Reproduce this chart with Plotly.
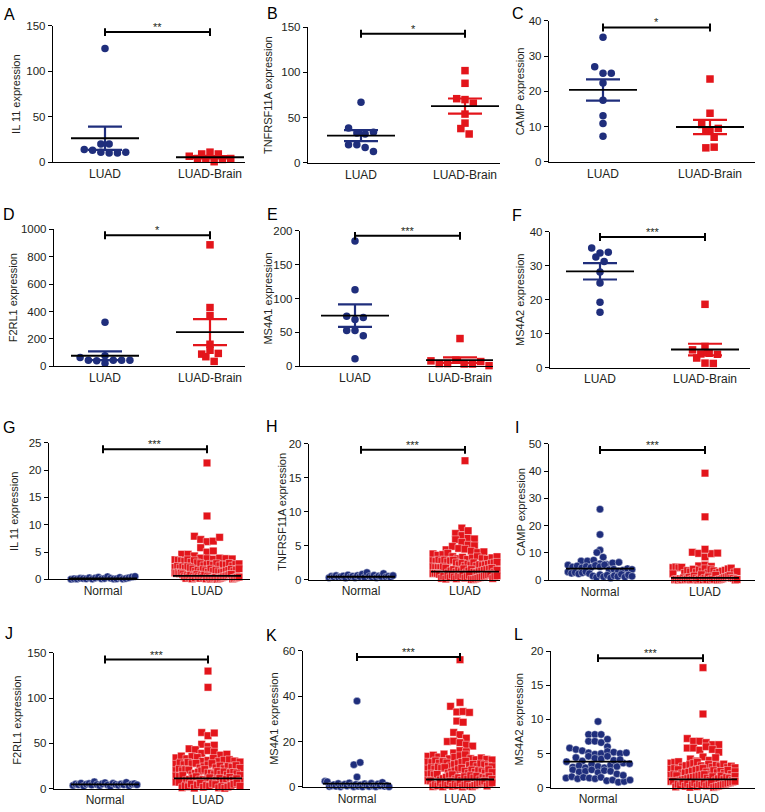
import plotly.graph_objects as go

W, H = 765, 812
NAVY = "#1F2E7C"
RED = "#E3151B"
INK = "#231F20"
FONT = "Liberation Sans, Arial, Helvetica, sans-serif"

# ---------------- data ----------------
panel_letters = ["A", "B", "C", "D", "E", "F", "G", "H", "I", "J", "K", "L"]
genes = ["IL 11", "TNFRSF11A", "CAMP", "F2RL1", "MS4A1", "MS4A2"]
top_groups = ["LUAD", "LUAD-Brain"]
bottom_groups = ["Normal", "LUAD"]
top_stars = ["**", "*", "*", "*", "***", "***"]
bottom_stars = ["***", "***", "***", "***", "***", "***"]

y_ticks = [
    [0, 50, 100, 150], [0, 50, 100, 150], [0, 10, 20, 30, 40],
    [0, 200, 400, 600, 800, 1000], [0, 50, 100, 150, 200], [0, 10, 20, 30, 40],
    [0, 5, 10, 15, 20, 25], [0, 5, 10, 15, 20], [0, 10, 20, 30, 40, 50],
    [0, 50, 100, 150], [0, 20, 40, 60], [0, 5, 10, 15, 20],
]
bracket_y = [143, 142.7, 38.1, 957, 192.7, 38.5, 23.8, 19.1, 47.7, 142.8, 57.2, 19.0]

# LUAD vs LUAD-Brain (panels A-F)
luad_A = [125, 20, 20, 14, 13, 11, 10, 10, 11]
brain_A = [9, 11, 9, 6.5, 4, 4, 0.5, 3, 4]
luad_B = [67, 38.5, 33, 32, 34, 20, 20, 17, 12.7]
brain_B = [102, 88, 71, 70, 66, 54, 44, 38, 32]
luad_C = [35.3, 27, 25.1, 25.1, 22.4, 17.5, 13.1, 10.9, 7.3]
brain_C = [23.5, 13.8, 10.6, 9.0, 9.5, 8.8, 7.0, 4.0, 4.2]
luad_D = [321, 65, 45, 41, 77, 22, 45, 45, 45]
brain_D = [887, 429, 369, 161, 89, 117, 70, 94, 36]
luad_E = [185, 113, 74, 69, 72, 53, 53, 45, 11]
brain_E = [41, 8, 4, 4, 9, 3.4, 3.4, 7, 1]
luad_F = [35.3, 33.8, 34, 32.6, 31.3, 28.2, 25, 19.3, 16.4]
brain_F = [18.7, 5.3, 6.3, 2.9, 4.1, 4.3, 1.4, 1.3, 4.0]

top_means = [[26.3, 5.4], [30.1, 62.8], [20.4, 9.9], [77, 249], [74.8, 9.2], [28.4, 5.4]]
top_sems = [[12.7, 1.2], [6.1, 8.4], [3.0, 2.0], [32, 95], [16.7, 4.0], [2.4, 1.7]]

# Normal vs LUAD (panels G-L)
normal_G = [0.05, 0.12, 0.08, 0.2, 0.15, 0.1, 0.3, 0.06, 0.25, 0.4, 0.1, 0.18, 0.5,
            0.22, 0.09, 0.13, 0.35, 0.07, 0.16, 0.28, 0.45, 0.55]
tumor_G = [21.3, 11.6, 7.9, 7.3, 6.9, 7.0, 7.7, 5.8, 5.0, 4.6, 4.6, 4.3, 5.2,
           3.9, 3.6, 3.8, 3.5, 3.7, 3.4, 3.9, 3.3, 3.6, 3.8, 3.15, 3.45, 3.75, 3.05,
           2.9, 2.5, 2.7, 2.2, 2.8, 2.4, 2.6, 2.1, 2.3, 2.9, 2.5, 2.7,
           2.05, 2.35, 2.65, 2.95, 2.15, 2.45, 2.75, 2.85,
           1.9, 1.5, 1.2, 1.7, 1.4, 1.8, 1.1, 1.6, 1.3, 1.9, 1.5, 1.2, 1.7, 1.4,
           1.05, 1.25, 1.35, 1.55, 1.65, 1.85, 1.15, 1.45, 1.75, 1.95,
           0.9, 0.5, 0.2, 0.7, 0.4, 0.8, 0.1, 0.6, 0.3, 0.9, 0.5, 0.2, 0.7, 0.4,
           0.8, 0.1, 0.6, 0.3, 0.05, 0.15, 0.25, 0.35,
           0.03, 0.14, 0.21, 0.33, 0.48, 0.52, 0.66, 0.71, 0.85, 0.94, 0.08, 0.19, 0.28, 0.39, 0.44]
normal_H = [0.3, 0.5, 0.4, 0.6, 0.35, 0.45, 0.55, 0.25, 0.7, 0.4, 0.5, 0.3, 0.6, 0.45,
            0.8, 0.35, 1.05, 0.5, 0.4, 0.65, 0.3, 0.55, 0.45, 0.9, 0.4, 0.5, 0.35, 0.6]
tumor_H = [17.5, 7.6, 6.8, 6.5, 7.2, 6.1, 5.9, 5.5, 6.0, 4.4, 5.1, 4.9, 5.0, 4.6, 4.5,
           4.2, 3.8, 4.0, 3.6, 4.1, 3.7, 3.9,
           3.4, 2.8, 3.1, 2.7, 3.3, 2.9, 3.0, 3.2, 2.7, 3.4, 2.9, 3.1,
           2.62, 2.78, 2.88, 3.02, 3.22, 3.38,
           2.5, 1.9, 2.2, 1.8, 2.4, 2.0, 2.3, 2.1, 1.8, 2.5, 2.0, 2.2,
           1.78, 1.88, 2.08, 2.18, 2.28, 2.38, 2.48, 2.58,
           1.7, 1.0, 1.3, 0.9, 1.5, 1.1, 1.4, 1.2, 1.6, 1.0, 1.3, 1.5, 0.95, 1.1,
           0.92, 1.02, 1.18, 1.28, 1.38, 1.48, 1.58, 1.68, 1.12, 1.42,
           0.8, 0.2, 0.5, 0.1, 0.6, 0.3, 0.7, 0.4, 0.15, 0.55, 0.35, 0.75, 0.25, 0.45, 0.65, 0.05,
           0.03, 0.12, 0.22, 0.33, 0.42, 0.52, 0.63, 0.72, 0.83, 0.18, 0.48, 0.58]
normal_I = [26.0, 16.7, 11.0, 10.1, 8.4, 7.0, 7.0, 7.3,
            5.5, 4.8, 5.2, 6.0, 4.5, 5.8, 5.0, 4.6, 5.4, 6.3, 4.9, 5.6, 6.5,
            3.0, 2.5, 3.8, 2.8, 4.0, 3.3, 2.3, 3.6, 4.2, 2.7, 3.1, 3.9, 2.4,
            1.5, 1.0, 2.0, 1.2, 1.8, 0.8, 1.6, 1.3, 2.1, 1.1, 1.9, 1.4]
tumor_I = [39.2, 23.2, 10.2, 9.8, 8.5, 9.7, 9.9, 11.3,
           4.6, 5.2, 4.8, 5.5, 4.5, 5.0, 4.7,
           2.5, 3.5, 3.0, 4.0, 2.8, 3.7, 2.3, 3.2, 4.2, 2.6, 3.9, 3.4,
           2.55, 2.9, 3.3, 3.6, 4.1, 4.4, 2.7, 3.1,
           0.1, 0.3, 0.05, 0.5, 0.2, 0.8, 0.15, 0.4, 1.0, 0.1, 0.25, 1.5, 0.6, 0.05,
           0.35, 2.0, 0.12, 0.7, 0.2, 1.2, 0.08, 0.45, 0.3, 1.8,
           0.02, 0.18, 0.28, 0.55, 0.9, 1.1, 1.35, 1.6, 0.75, 0.65, 0.04, 0.22]
normal_J = [3.5, 5.0, 4.2, 6.0, 2.8, 4.8, 5.5, 3.9, 7.5, 4.5, 3.2, 5.2, 6.5, 4.0, 2.5,
            5.8, 4.6, 3.6, 5.1, 4.3, 6.8, 3.0, 4.9, 5.4, 4.1]
tumor_J = [130, 112, 62, 58.5, 61.5, 49, 46.5, 48, 44, 43, 39, 42, 40.5,
           34, 36, 33, 35.5, 37, 34.5, 38, 30.2, 31.2, 33.5,
           27, 30, 28.5, 31.5, 26.5, 29, 32, 27.5, 30.5, 28, 22.8, 24.2, 26.2, 27.8, 29.4,
           20, 23, 21.5, 25, 19.8, 22, 24.5, 21, 23.5, 20.5, 25.5, 22.5,
           15.2, 16.8, 18.2, 19.6, 21.2, 17.3,
           14, 17, 15.5, 19, 13.5, 16, 18.5, 15, 17.5, 14.5, 18, 16.5,
           7.2, 8.8, 10.2, 11.8, 13.2, 14.6, 9.8,
           7, 10, 8.5, 12, 7.5, 9, 11.5, 8, 10.5, 12.5, 9.5, 11, 7.8,
           1, 3, 2, 5, 0.5, 4, 6, 1.5, 3.5, 2.5, 5.5, 4.5, 0.8, 2.2,
           0.3, 1.8, 3.2, 4.8, 6.3, 2.7]
normal_K = [37.8, 9.8, 10.8, 4.4, 2.5, 2.3,
            0.2, 0.5, 1.0, 0.3, 1.5, 0.1, 0.8, 1.2, 0.4, 1.8, 0.6, 0.15, 1.1, 0.35,
            0.9, 0.05, 1.4, 0.7, 0.25, 1.6, 0.45, 0.12, 1.3, 0.55, 2.0, 0.3, 0.65, 0.08]
tumor_K = [56, 37.2, 35.5, 33, 33.2, 32.8, 29, 28.5, 24, 23, 21.5, 20, 20.2, 19.5, 18.5, 18,
           13.5, 15, 14, 16, 13.2, 14.5, 15.5, 12.4, 13.1, 13.8, 14.2,
           11, 12.5, 10.8, 12, 11.5, 10.5, 12.8, 11.2, 12.2, 10.6,
           9.3, 9.9, 10.3, 10.9, 11.4, 11.9,
           8, 9.5, 8.5, 10, 9, 7.9, 10.2, 8.8, 9.8, 8.2, 9.2, 8.6,
           6.1, 6.6, 7.1, 7.7, 8.3, 8.9,
           5.5, 7, 6, 7.5, 5.8, 6.5, 7.2, 5.3, 6.8, 6.2, 7.6, 5.6, 6.4,
           3.1, 3.7, 4.3, 4.9, 5.4, 3.3, 4.1,
           3, 4.5, 3.5, 5, 2.8, 4, 4.8, 3.2, 4.2, 3.8, 2.7, 4.6, 3.4,
           0.2, 1, 0.5, 2, 0.1, 1.5, 0.8, 2.4, 0.3, 1.2, 0.6, 1.8, 0.05, 0.9, 1.4, 0.4,
           0.15, 0.7, 1.1, 1.7, 2.2, 2.6, 0.45, 1.3, 1.9]
normal_L = [9.7, 7.8, 7.8, 7.8, 7.1, 6.8, 6.8, 6.6, 6.0, 5.8, 5.6, 5.4, 5.1, 4.9, 5.0,
            5.3, 5.2, 5.0, 5.1, 4.4, 3.9, 4.6, 4.3, 4.2, 3.8, 4.6, 3.0, 3.2, 2.9, 3.4,
            3.1, 2.9, 3.3, 3.1, 2.6, 2.3, 2.4, 2.6, 2.2, 2.5, 2.4, 1.4, 1.6, 1.3, 1.5,
            1.4, 1.3, 1.5, 1.0, 1.1, 0.8, 0.9, 1.1, 3.6, 4.0, 2.0, 1.8, 3.5, 4.1]
tumor_L = [17.6, 10.8, 7.2, 6.8, 6.8, 6.6, 6.3, 6.3, 5.8, 5.8, 5.5, 6.0, 5.6, 5.2,
           3.6, 4.2, 3.9, 4.5, 3.7, 4.0, 4.4, 3.8, 3.05, 3.22, 3.38, 3.55, 3.72,
           2.7, 3.2, 2.9, 3.4, 2.8, 3.0, 3.3, 2.65, 3.1, 3.45, 2.95, 3.15,
           2.04, 2.16, 2.27, 2.42, 2.58, 2.68, 2.82, 2.91,
           1.8, 2.3, 2.0, 2.5, 1.9, 2.2, 2.4, 1.75, 2.1, 2.55, 1.95, 2.35,
           1.03, 1.14, 1.21, 1.33, 1.44, 1.52, 1.61, 1.73, 1.84, 1.91,
           0.9, 1.4, 1.1, 1.6, 1.0, 1.3, 1.7, 1.2, 1.5, 0.95, 1.35, 1.05, 1.65,
           0.1, 0.5, 0.3, 0.8, 0.2, 0.6, 0.05, 0.4, 0.7, 0.15, 0.55, 0.35, 0.75, 0.25, 0.45, 0.65,
           0.03, 0.13, 0.21, 0.32, 0.43, 0.51, 0.62, 0.71, 0.83, 0.92]
bottom_means = [[0.2, 0.66], [0.43, 1.2], [4.2, 0.84], [4.7, 11.3], [1.45, 3.3], [3.8, 1.2]]

top_data = [(luad_A, brain_A), (luad_B, brain_B), (luad_C, brain_C),
            (luad_D, brain_D), (luad_E, brain_E), (luad_F, brain_F)]
bottom_data = [(normal_G, tumor_G), (normal_H, tumor_H), (normal_I, tumor_I),
               (normal_J, tumor_J), (normal_K, tumor_K), (normal_L, tumor_L)]

# ---------------- layout geometry (pixels) ----------------
geom = [
    (53, 245, 20.0, 158.5, 105, 210), (308, 500, 21.5, 159.3, 361, 465), (549, 755, 15.0, 158.3, 603, 710),
    (54, 245, 226.7, 365.7, 105, 210), (300, 493, 228.3, 365.7, 355, 460), (550, 750, 229.3, 367.3, 600, 705),
    (49, 250, 443.3, 582.0, 103, 207), (309, 500, 444.3, 582.3, 361, 465), (549, 755, 444.3, 582.7, 600, 705),
    (54, 250, 656.7, 794.3, 105, 208), (303, 500, 654.3, 792.7, 357, 460), (551, 755, 655.0, 793.3, 598, 703),
]
title_x = [16, 268, 520, 12.5, 268, 520, 14, 282, 521, 17, 274, 519]
letter_pos = [(9, 9), (272, 8), (518, 8), (9, 212), (272, 212), (517, 213),
              (9, 428), (272, 427), (517, 428), (9, 637), (271, 639), (518, 638)]


def swarm(values, centre, ppu_y, ppu_x, marker_px, spacing_px, max_half_px):
    order = sorted(range(len(values)), key=lambda k: values[k])
    groups, cur, start = [], [], None
    for k in order:
        v = values[k]
        if cur and (v - start) * ppu_y < marker_px:
            cur.append(k)
        else:
            if cur:
                groups.append(cur)
            cur, start = [k], v
    if cur:
        groups.append(cur)
    xs = [centre] * len(values)
    for g in groups:
        g = sorted(g)
        n = len(g)
        sp = spacing_px
        if n > 1 and (n - 1) * sp / 2 > max_half_px:
            sp = 2 * max_half_px / (n - 1)
        for j, k in enumerate(g):
            xs[k] = centre + (j - (n - 1) / 2) * sp / ppu_x
    return xs


fig = go.Figure()
annotations = []
layout_axes = {}

for p in range(12):
    top = p < 6
    gi = p % 6
    x0, x1, yt, yb, c1, c2 = geom[p]
    spx = c2 - c1
    xl = 1 - (c1 - x0) / spx
    xr = 2 + (x1 - c2) / spx
    ticks = y_ticks[p]
    ymax = ticks[-1]
    ppu_y = (yb - yt) / ymax
    suffix = "" if p == 0 else str(p + 1)
    xa, ya = "x" + suffix, "y" + suffix

    layout_axes["xaxis" + suffix] = dict(
        domain=[x0 / W, x1 / W], range=[xl, xr], anchor=ya,
        tickvals=[1, 2], ticktext=top_groups if top else bottom_groups,
        showline=True, linecolor="black", linewidth=1.4, ticks="", showgrid=False,
        zeroline=False, tickfont=dict(size=12, color=INK, family=FONT),
    )
    layout_axes["yaxis" + suffix] = dict(
        domain=[1 - yb / H, 1 - yt / H], range=[0, ymax], anchor=xa,
        tickvals=ticks, ticktext=[str(t) for t in ticks],
        showline=True, linecolor="black", linewidth=1.4, ticks="outside", ticklen=4,
        tickwidth=1.4, tickcolor="black", showgrid=False, zeroline=False,
        tickfont=dict(size=11.5, color=INK, family=FONT),
    )

    groups_vals = top_data[gi] if top else bottom_data[gi]
    means = top_means[gi] if top else bottom_means[gi]
    for gidx, vals in enumerate(groups_vals):
        colour = NAVY if gidx == 0 else RED
        symbol = "circle" if gidx == 0 else "square"
        centre = gidx + 1
        if top:
            xs = swarm(vals, centre, ppu_y, spx, 7, 8.3, 34)
            marker = dict(size=7.5, color=colour, symbol=symbol, line=dict(width=0))
        else:
            xs = swarm(vals, centre, ppu_y, spx, 6.5, 6.3, 32)
            marker = dict(size=7.5, color=colour, symbol=symbol, line=dict(width=0.4, color="white"))
        fig.add_trace(go.Scatter(x=xs, y=vals, mode="markers", marker=marker, xaxis=xa, yaxis=ya,
                                 cliponaxis=False, showlegend=False, hoverinfo="y"))
        m = means[gidx]
        if top:
            s = top_sems[gi][gidx]
            hw = 17 / spx
            fig.add_trace(go.Scatter(
                x=[centre - hw, centre + hw, None, centre - hw, centre + hw, None, centre, centre],
                y=[m + s, m + s, None, m - s, m - s, None, m - s, m + s],
                mode="lines", line=dict(color=colour, width=2.2), xaxis=xa, yaxis=ya,
                cliponaxis=False, showlegend=False, hoverinfo="skip"))
        hm = 34 / spx
        fig.add_trace(go.Scatter(x=[centre - hm, centre + hm], y=[m, m], mode="lines",
                                 line=dict(color="black", width=1.8), xaxis=xa, yaxis=ya,
                                 cliponaxis=False, showlegend=False, hoverinfo="skip"))

    by = bracket_y[p]
    cap = 4 / ppu_y
    fig.add_trace(go.Scatter(
        x=[1, 1, None, 1, 2, None, 2, 2],
        y=[by - cap, by + cap, None, by, by, None, by - cap, by + cap],
        mode="lines", line=dict(color="black", width=2), xaxis=xa, yaxis=ya,
        cliponaxis=False, showlegend=False, hoverinfo="skip"))
    annotations.append(dict(x=1.5, y=by, xref=xa, yref=ya, text=(top_stars if top else bottom_stars)[gi],
                            showarrow=False, yanchor="middle", yshift=5,
                            font=dict(size=11, color=INK, family=FONT)))
    annotations.append(dict(x=title_x[p] / W, y=1 - (yt + yb) / 2 / H, xref="paper", yref="paper",
                            text=genes[gi] + " expression", textangle=-90, showarrow=False,
                            xanchor="center", yanchor="middle",
                            font=dict(size=11, color=INK, family=FONT)))
    lx, ly = letter_pos[p]
    annotations.append(dict(x=lx / W, y=1 - ly / H, xref="paper", yref="paper", text=panel_letters[p],
                            showarrow=False, xanchor="center", yanchor="middle",
                            font=dict(size=16, color="black", family=FONT)))

fig.update_layout(
    width=W, height=H, margin=dict(l=0, r=0, t=0, b=0),
    paper_bgcolor="white", plot_bgcolor="white",
    annotations=annotations, font=dict(family=FONT, color=INK), **layout_axes,
)
fig.write_html(
    "out.html",
    config={"displayModeBar": False},
    post_script="document.body.style.margin='0';document.body.style.padding='0';"
                "document.body.style.overflow='hidden';",
)
